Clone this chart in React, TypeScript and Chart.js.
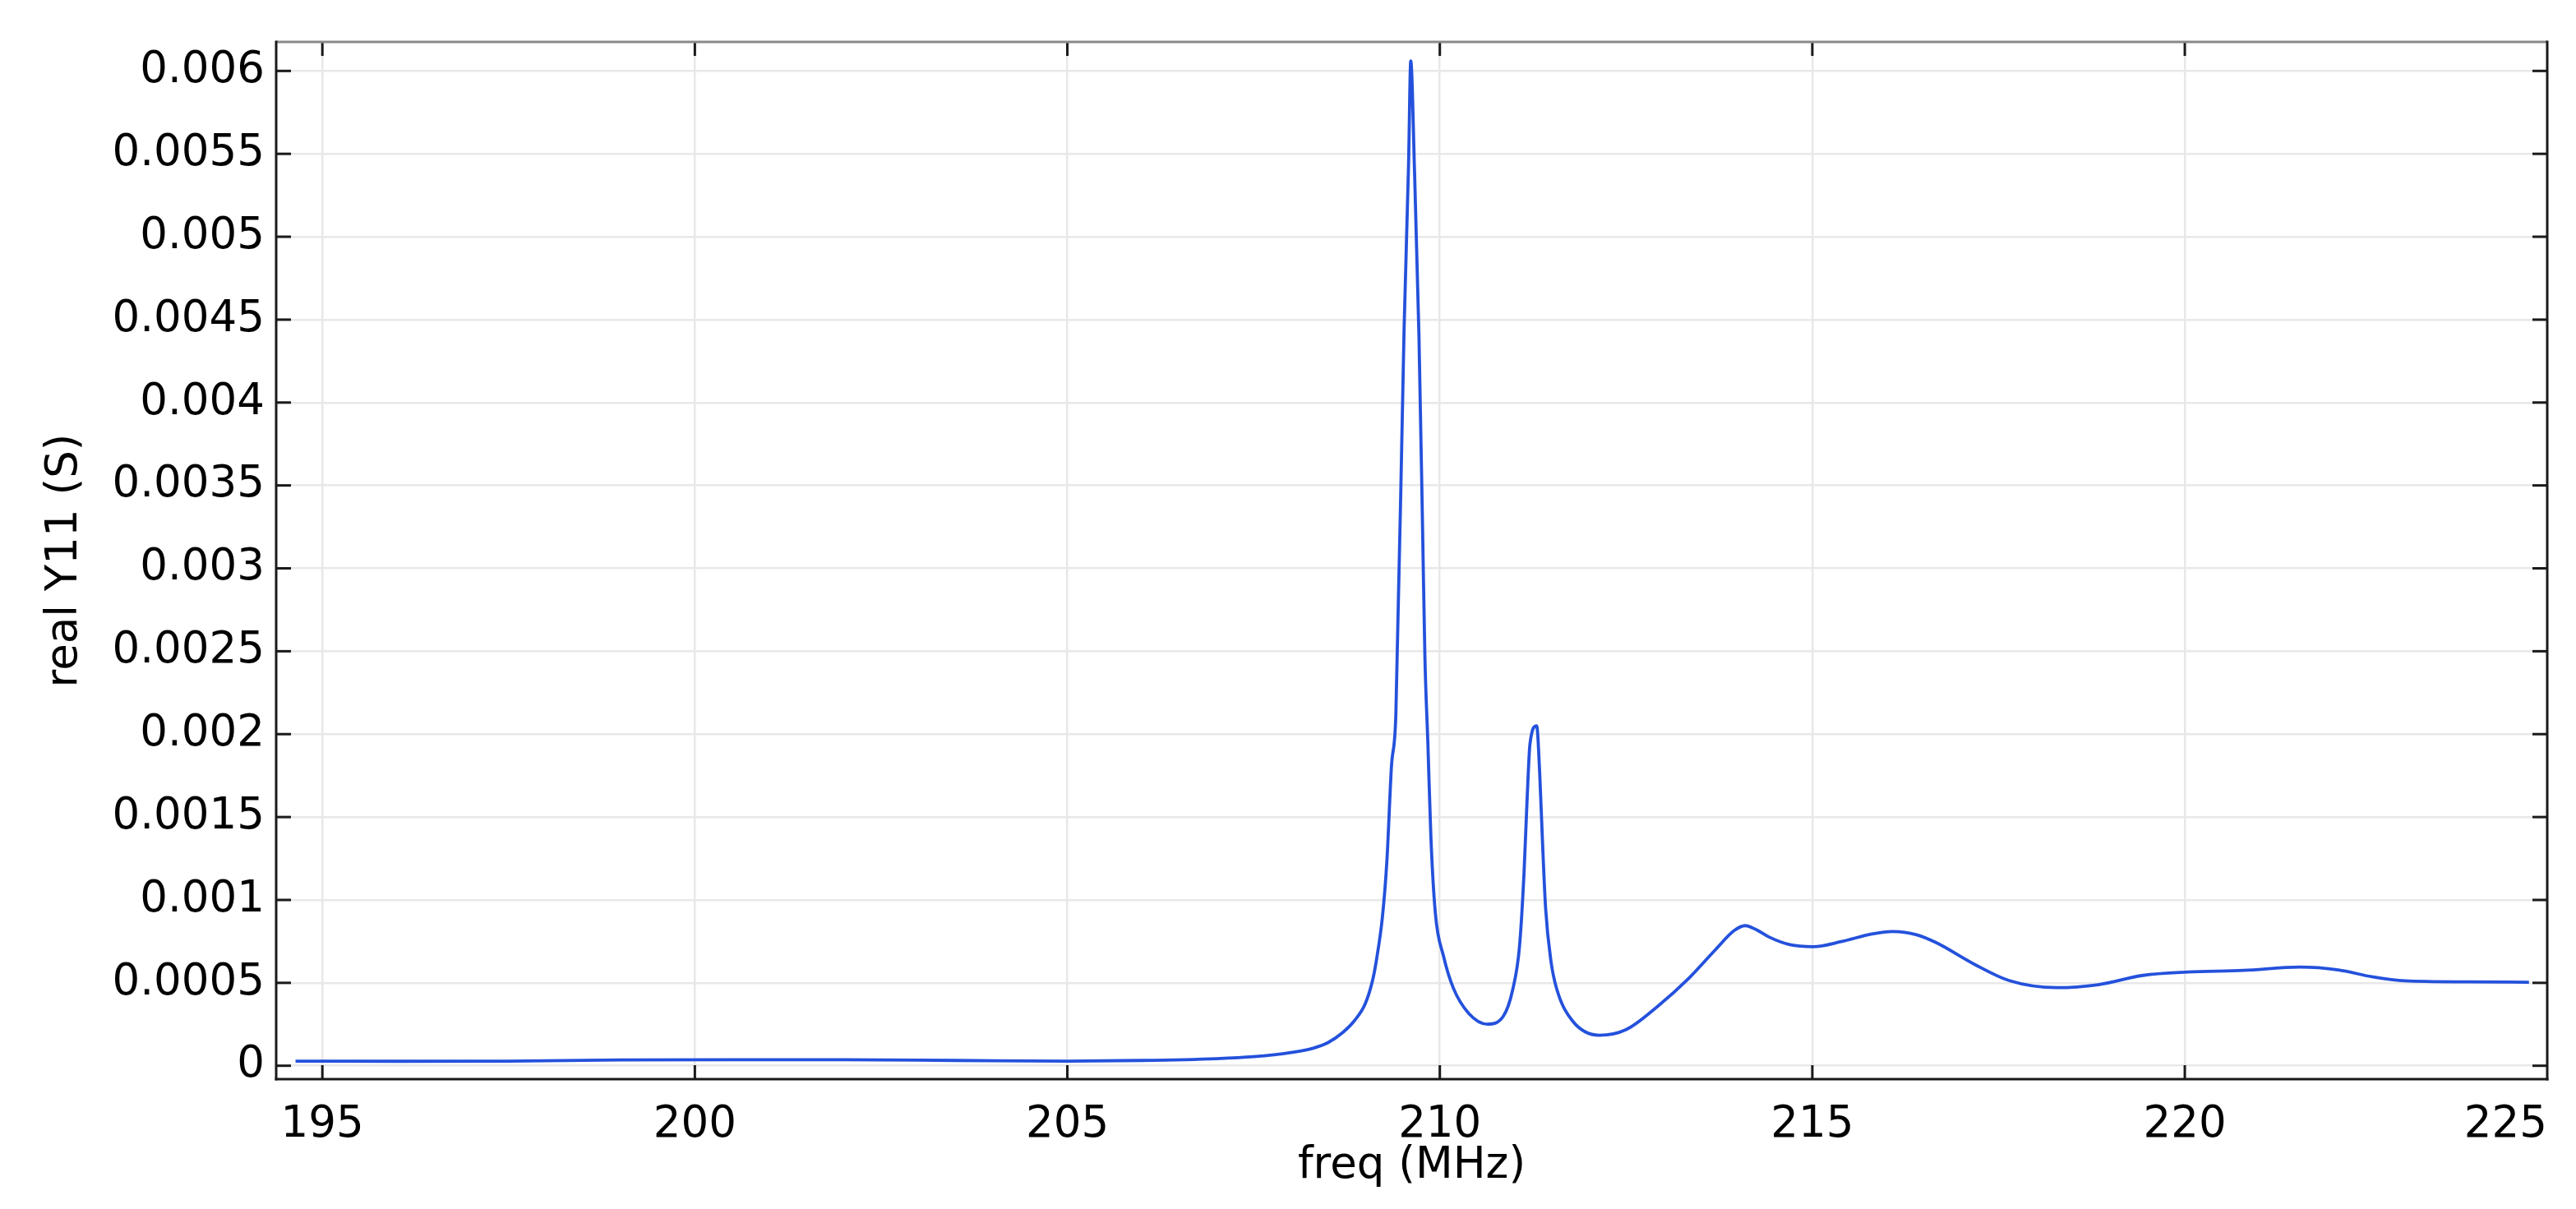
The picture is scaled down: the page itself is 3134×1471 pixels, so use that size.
import React, { useEffect, useRef } from "react";
import { Chart, registerables } from "chart.js";

Chart.register(...registerables);

// Frequency sweep (MHz) and real part of Y11 (S)
const freqMHz = [
  194.64, 196, 197.5, 199, 200.5, 202, 203.5, 205, 206, 207, 207.5, 208, 208.3,
  208.5, 208.7, 208.85, 209.0, 209.1, 209.15, 209.23, 209.29, 209.35, 209.41,
  209.52, 209.58, 209.61, 209.66, 209.72, 209.77, 209.8, 209.84, 209.88, 209.94,
  210.05, 210.18, 210.39, 210.64, 210.85, 210.98, 211.07, 211.13, 211.17, 211.21,
  211.3, 211.34, 211.38, 211.42, 211.49, 211.57, 211.78, 212.14, 212.5, 212.92,
  213.35, 213.7, 213.95, 214.1, 214.25, 214.42, 214.7, 215.01, 215.4, 215.8,
  216.08, 216.4, 216.66, 217.18, 217.64, 218.28, 218.84, 219.44, 220.04, 220.79,
  221.54, 222.06, 222.51, 222.96, 223.8, 224.62,
];
const realY11 = [
  0.000028, 0.000027, 0.000028, 0.000035, 0.000036, 0.000036, 0.000032, 0.000028,
  0.000032, 0.000043, 0.000055, 0.00008, 0.000106, 0.00014, 0.000202, 0.00027,
  0.000375, 0.00052, 0.00064, 0.0009, 0.00124, 0.0018, 0.00212, 0.00444, 0.00543,
  0.00606, 0.0054, 0.0044, 0.0032, 0.00246, 0.00194, 0.00138, 0.00092, 0.00066,
  0.00047, 0.000315, 0.000251, 0.000297, 0.000462, 0.000722, 0.00116, 0.00159,
  0.00194, 0.00205, 0.00177, 0.00133, 0.00095, 0.000636, 0.000462, 0.000271,
  0.000184, 0.000218, 0.000357, 0.000531, 0.0007, 0.000815, 0.000845, 0.00082,
  0.000776, 0.00073, 0.000718, 0.00075, 0.000795, 0.00081, 0.00079, 0.000743,
  0.000611, 0.000514, 0.000471, 0.000489, 0.000545, 0.000565, 0.000575, 0.000595,
  0.000578, 0.000537, 0.000512, 0.000506, 0.000504,
];

const xTickValues = [195, 200, 205, 210, 215, 220];
const xLastLabel = "225";
const yTickValues = [
  0, 0.0005, 0.001, 0.0015, 0.002, 0.0025, 0.003, 0.0035, 0.004, 0.0045, 0.005,
  0.0055, 0.006,
];

const X_MIN = 194.38;
const X_MAX = 224.865;
const Y_MIN = -0.0000808;
const Y_MAX = 0.006175;

const FONT = "'DejaVu Sans', sans-serif";

const framePlugin = {
  id: "comsolFrame",
  afterDraw(chart: any) {
    const { ctx, chartArea: a, scales } = chart;
    const xs = scales.x;
    const ys = scales.y;
    const seg = (x1: number, y1: number, x2: number, y2: number) => {
      ctx.beginPath();
      ctx.moveTo(x1, y1);
      ctx.lineTo(x2, y2);
      ctx.stroke();
    };
    ctx.save();
    ctx.strokeStyle = "#1a1a1a";
    ctx.lineWidth = 3;
    xs.ticks.forEach((t: any) => {
      if (t.value <= xs.min + 1e-9 || t.value >= xs.max - 1e-9) return;
      const px = xs.getPixelForValue(t.value);
      seg(px, a.bottom, px, a.bottom - 17);
      seg(px, a.top, px, a.top + 17);
    });
    ys.ticks.forEach((t: any) => {
      const py = ys.getPixelForValue(t.value);
      seg(a.left, py, a.left + 18, py);
      seg(a.right, py, a.right - 18, py);
    });
    // frame
    ctx.lineWidth = 3;
    ctx.strokeStyle = "#8a8a8a";
    seg(a.left, a.top, a.right, a.top);
    ctx.strokeStyle = "#1a1a1a";
    seg(a.left, a.top - 1.5, a.left, a.bottom + 1.5);
    seg(a.left - 1.5, a.bottom, a.right + 1.5, a.bottom);
    seg(a.right, a.top - 1.5, a.right, a.bottom + 1.5);
    ctx.restore();
  },
};

export default function App() {
  const canvasRef = useRef<HTMLCanvasElement | null>(null);

  useEffect(() => {
    document.body.style.margin = "0";
    const canvas = canvasRef.current;
    if (!canvas) return;
    const points = freqMHz.map((f, i) => ({ x: f, y: realY11[i] }));

    const chart = new Chart(canvas, {
      type: "line",
      data: {
        datasets: [
          {
            data: points,
            borderColor: "#2451dc",
            borderWidth: 3.8,
            pointRadius: 0,
            fill: false,
            cubicInterpolationMode: "monotone",
          },
        ],
      },
      options: {
        animation: false,
        responsive: false,
        devicePixelRatio: 1,
        events: [],
        layout: { padding: { top: 51, right: 35, bottom: 0, left: 0 } },
        plugins: { legend: { display: false }, tooltip: { enabled: false } },
        scales: {
          x: {
            type: "linear",
            min: X_MIN,
            max: X_MAX,
            afterBuildTicks: (scale: any) => {
              scale.ticks = [
                { value: X_MIN },
                ...xTickValues.map((v) => ({ value: v })),
                { value: X_MAX },
              ];
            },
            afterFit: (scale: any) => {
              scale.height = 158;
            },
            border: { display: false },
            grid: {
              color: (c: any) =>
                c.tick && (c.tick.value <= X_MIN + 1e-9 || c.tick.value >= X_MAX - 1e-9)
                  ? "rgba(0,0,0,0)"
                  : "#e8e8e8",
              lineWidth: 2.5,
              drawTicks: false,
            },
            ticks: {
              autoSkip: false,
              maxRotation: 0,
              align: "inner",
              padding: 24,
              color: "#000",
              font: { family: FONT, size: 53 },
              callback: (v: any) => {
                const n = Number(v);
                if (Math.abs(n - X_MIN) < 1e-9) return "";
                if (Math.abs(n - X_MAX) < 1e-9) return xLastLabel;
                return String(n);
              },
            },
            title: {
              display: true,
              text: "freq (MHz)",
              color: "#000",
              font: { family: FONT, size: 53 },
              padding: { top: 0, bottom: 20 },
            },
          },
          y: {
            type: "linear",
            min: Y_MIN,
            max: Y_MAX,
            afterBuildTicks: (scale: any) => {
              scale.ticks = yTickValues.map((v) => ({ value: v }));
            },
            afterFit: (scale: any) => {
              scale.width = 336;
            },
            border: { display: false },
            grid: { color: "#e8e8e8", lineWidth: 2.5, drawTicks: false },
            ticks: {
              padding: 14,
              color: "#000",
              font: { family: FONT, size: 53 },
              callback: (v: any) => String(Number(Number(v).toFixed(5))),
            },
            title: {
              display: true,
              text: "real Y11 (S)",
              color: "#000",
              font: { family: FONT, size: 53 },
              padding: { top: 47, bottom: 0 },
            },
          },
        },
      },
      plugins: [framePlugin],
    } as any);

    return () => chart.destroy();
  }, []);

  return (
    <div style={{ width: 3134, height: 1471, overflow: "hidden", background: "#fff" }}>
      <canvas ref={canvasRef} width={3134} height={1471} style={{ display: "block" }} />
    </div>
  );
}
